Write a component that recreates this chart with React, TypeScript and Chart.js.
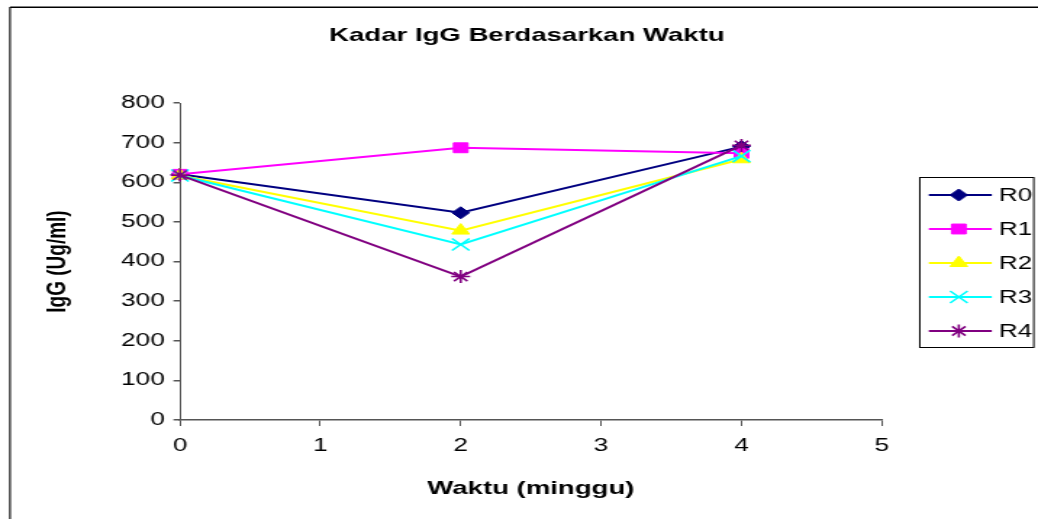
import React, { useEffect, useRef } from 'react';
import { Chart, registerables } from 'chart.js';
import { drawPoint } from 'chart.js/helpers';

Chart.register(...registerables);

// ---- data ----
const chartTitle = 'Kadar IgG Berdasarkan Waktu';
const xAxisTitle = 'Waktu (minggu)';
const yAxisTitle = 'IgG (Ug/ml)';
const weeks = [0, 2, 4];
const seriesNames = ['R0', 'R1', 'R2', 'R3', 'R4'];
const r0Values = [620, 523, 690];
const r1Values = [620, 687, 673];
const r2Values = [617, 478, 658];
const r3Values = [617, 443, 666];
const r4Values = [618, 362, 693];
const seriesValues = [r0Values, r1Values, r2Values, r3Values, r4Values];

// ---- styles ----
const colors = ['#000080', '#FF00FF', '#FFFF00', '#00FFFF', '#800080'];
const markers = ['rectRot', 'rect', 'triangle', 'crossRot', 'star'];
const radii = [6, 7, 7, 8.5, 6.5];
const markerBorder = [1, 1, 1, 1.6, 1.6];

const W = 1038;
const H = 519;
const S = 1.45; // horizontal stretch of the picture
const IW = Math.round(W / S);
const FONT = "'Liberation Sans', Arial, sans-serif";
const AXIS = '#555555';

const decorPlugin = {
  id: 'decor',
  afterDraw(chart: any) {
    const ctx = chart.ctx;
    ctx.save();
    // outer frame (left and top visible)
    ctx.strokeStyle = '#000';
    ctx.lineWidth = 1.1;
    ctx.beginPath();
    ctx.moveTo(10 / S, H + 10);
    ctx.lineTo(10 / S, 7.5);
    ctx.lineTo(IW + 10, 7.5);
    ctx.stroke();
    ctx.lineWidth = 1;
    ctx.beginPath();
    ctx.moveTo(10 / S, 7);
    ctx.lineTo(IW + 10, 7);
    ctx.stroke();

    // title
    ctx.fillStyle = '#000';
    ctx.font = `bold 19px ${FONT}`;
    ctx.textAlign = 'center';
    ctx.textBaseline = 'middle';
    ctx.fillText(chartTitle, 527 / S, 36);

    // legend
    const bx = 920 / S, by = 177, bw = 114 / S, bh = 170;
    ctx.strokeStyle = '#000';
    ctx.lineWidth = 1;
    ctx.strokeRect(bx, by + 0.5, bw, bh);
    const ys = [195, 229, 263, 297, 331];
    chart.data.datasets.forEach((ds: any, i: number) => {
      const y = ys[i];
      ctx.strokeStyle = ds.borderColor;
      ctx.lineWidth = 2;
      ctx.beginPath();
      ctx.moveTo(929 / S, y);
      ctx.lineTo(992 / S, y);
      ctx.stroke();
      ctx.fillStyle = ds.pointBackgroundColor;
      ctx.strokeStyle = ds.pointBorderColor;
      ctx.lineWidth = ds.pointBorderWidth;
      drawPoint(ctx, { pointStyle: ds.pointStyle, radius: ds.pointRadius, rotation: 0, borderWidth: ds.pointBorderWidth }, 959 / S, y);
      ctx.fillStyle = '#000';
      ctx.font = `18px ${FONT}`;
      ctx.textAlign = 'left';
      ctx.textBaseline = 'middle';
      ctx.fillText(ds.label, 999 / S, y + 1);
    });
    ctx.restore();
  },
};

export default function App() {
  const ref = useRef<HTMLCanvasElement>(null);
  useEffect(() => {
    const canvas = ref.current!;
    const datasets = seriesNames.map((name, i) => ({
      label: name,
      data: weeks.map((w, j) => ({ x: w, y: seriesValues[i][j] })),
      borderColor: colors[i],
      backgroundColor: colors[i],
      pointBackgroundColor: colors[i],
      pointBorderColor: colors[i],
      pointBorderWidth: markerBorder[i],
      pointStyle: markers[i],
      pointRadius: radii[i],
      borderWidth: 2,
      tension: 0,
      clip: false as any,
      order: seriesNames.length - i,
    }));
    const chart = new Chart(canvas, {
      type: 'line',
      data: { datasets },
      options: {
        animation: false,
        responsive: false,
        devicePixelRatio: 1,
        layout: { padding: { left: 10 / S, right: IW - 882 / S, top: 103, bottom: 0 } },
        plugins: {
          legend: { display: false },
          title: { display: false },
          tooltip: { enabled: false },
        },
        scales: {
          x: {
            type: 'linear',
            min: 0,
            max: 5,
            ticks: { stepSize: 1, color: '#000', font: { family: FONT, size: 18 }, padding: 9 },
            grid: { drawOnChartArea: false, drawTicks: true, tickLength: 6, color: AXIS, lineWidth: 1 },
            border: { display: true, color: AXIS, width: 1.5 },
            title: {
              display: true,
              text: xAxisTitle,
              color: '#000',
              font: { family: FONT, size: 19, weight: 'bold' },
              padding: { top: 0, bottom: 19 },
            },
            afterFit: (s: any) => { s.height = H - 420; },
          },
          y: {
            type: 'linear',
            min: 0,
            max: 800,
            ticks: { stepSize: 100, color: '#000', font: { family: FONT, size: 18 }, padding: 6 },
            grid: { drawOnChartArea: false, drawTicks: true, tickLength: 4.5, color: AXIS, lineWidth: 1.5 },
            border: { display: true, color: AXIS, width: 1 },
            title: {
              display: true,
              text: yAxisTitle,
              color: '#000',
              font: { family: FONT, size: 19, weight: 'bold' },
              padding: { top: 21, bottom: 0 },
            },
            afterFit: (s: any) => { s.width = 180 / S - 10 / S; },
          },
        },
      } as any,
      plugins: [decorPlugin],
    });
    canvas.style.width = W + 'px';
    canvas.style.height = H + 'px';
    return () => chart.destroy();
  }, []);
  return (
    <div style={{ position: 'fixed', left: 0, top: 0, width: W, height: H, overflow: 'hidden', background: '#fff' }}>
      <canvas ref={ref} width={IW} height={H} style={{ width: W + 'px', height: H + 'px', display: 'block' }} />
    </div>
  );
}
